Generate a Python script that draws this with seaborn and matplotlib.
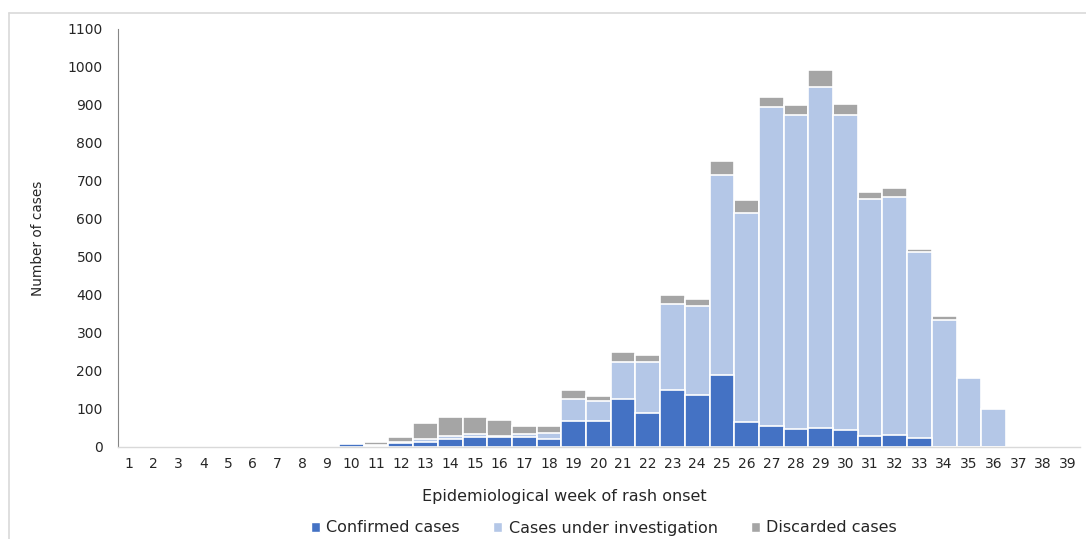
import numpy as np
import pandas as pd
import seaborn as sns
import matplotlib.pyplot as plt
from matplotlib.lines import Line2D
from matplotlib.patches import Patch

weeks = [str(w) for w in range(1, 40)]

confirmed = [0, 0, 0, 0, 0, 0, 0, 0, 0, 7, 3, 10, 13, 21, 26, 26, 26, 21, 69, 69,
             127, 90, 150, 138, 190, 65, 56, 47, 50, 44, 29, 32, 24, 0, 0, 0, 0, 0, 0]
investigation = [0, 0, 0, 0, 0, 0, 0, 0, 0, 0, 2, 3, 9, 8, 9, 3, 9, 16, 58, 53,
                 97, 135, 226, 232, 525, 550, 838, 826, 897, 829, 623, 625, 488, 333, 182, 100, 0, 0, 0]
discarded = [0, 0, 0, 0, 0, 0, 0, 0, 0, 0, 9, 13, 40, 51, 45, 43, 19, 17, 23, 13,
             26, 18, 24, 20, 38, 35, 26, 26, 46, 29, 20, 24, 9, 12, 0, 0, 0, 0, 0]

labels = ["Confirmed cases", "Cases under investigation", "Discarded cases"]
colors = ["#4472C4", "#B4C7E7", "#A5A5A5"]

df = pd.DataFrame({"week": weeks, "confirmed": confirmed,
                   "investigation": investigation, "discarded": discarded})
df["lvl1"] = df["confirmed"]
df["lvl2"] = df["lvl1"] + df["investigation"]
df["lvl3"] = df["lvl2"] + df["discarded"]

sns.set_style("white")
plt.rcParams["font.family"] = ["DejaVu Sans"]

fig = plt.figure(figsize=(10.86, 5.39), dpi=100)
ax = fig.add_axes([118 / 1086, 1 - 447 / 539, (1080 - 118) / 1086, (447 - 29) / 539])

# stacked look: draw cumulative totals from the top down
for col, c in zip(["lvl3", "lvl2", "lvl1"], colors[::-1]):
    sns.barplot(data=df, x="week", y=col, order=weeks, color=c, width=1.0,
                edgecolor="white", linewidth=1.2, saturation=1, ax=ax, errorbar=None)

ax.set_xlim(-0.45, 38.5)
ax.set_ylim(0, 1100)
ax.set_yticks(np.arange(0, 1101, 100))
ax.tick_params(axis="y", length=5, width=0.8, color="#868686", labelsize=10, pad=6)
ax.tick_params(axis="x", length=0, labelsize=10, pad=7)
for s in ["top", "right"]:
    ax.spines[s].set_visible(False)
ax.spines["left"].set_color("#868686")
ax.spines["left"].set_linewidth(0.8)
ax.spines["bottom"].set_color("#D9D9D9")
ax.spines["bottom"].set_linewidth(1.0)
ax.set_xlabel("")
ax.set_ylabel("Number of cases", fontsize=9.8, labelpad=16)
fig.text(564 / 1086, 1 - 497 / 539, "Epidemiological week of rash onset",
         ha="center", va="center", fontsize=11.5)

handles = [Patch(facecolor=c, label=l) for c, l in zip(colors, labels)]
fig.legend(handles=handles, loc="center", bbox_to_anchor=(604 / 1086, 1 - 528 / 539),
           ncol=3, frameon=False, fontsize=11.5, handlelength=0.55, handleheight=0.55,
           handletextpad=0.4, columnspacing=2.1)

# light frame around the chart area
fig.add_artist(Line2D([9 / 1086, 9 / 1086], [0, 1 - 13 / 539], color="#D9D9D9", lw=1.2))
fig.add_artist(Line2D([9 / 1086, 1], [1 - 13 / 539, 1 - 13 / 539], color="#D9D9D9", lw=1.2))

fig.savefig("out.png", dpi=100)
